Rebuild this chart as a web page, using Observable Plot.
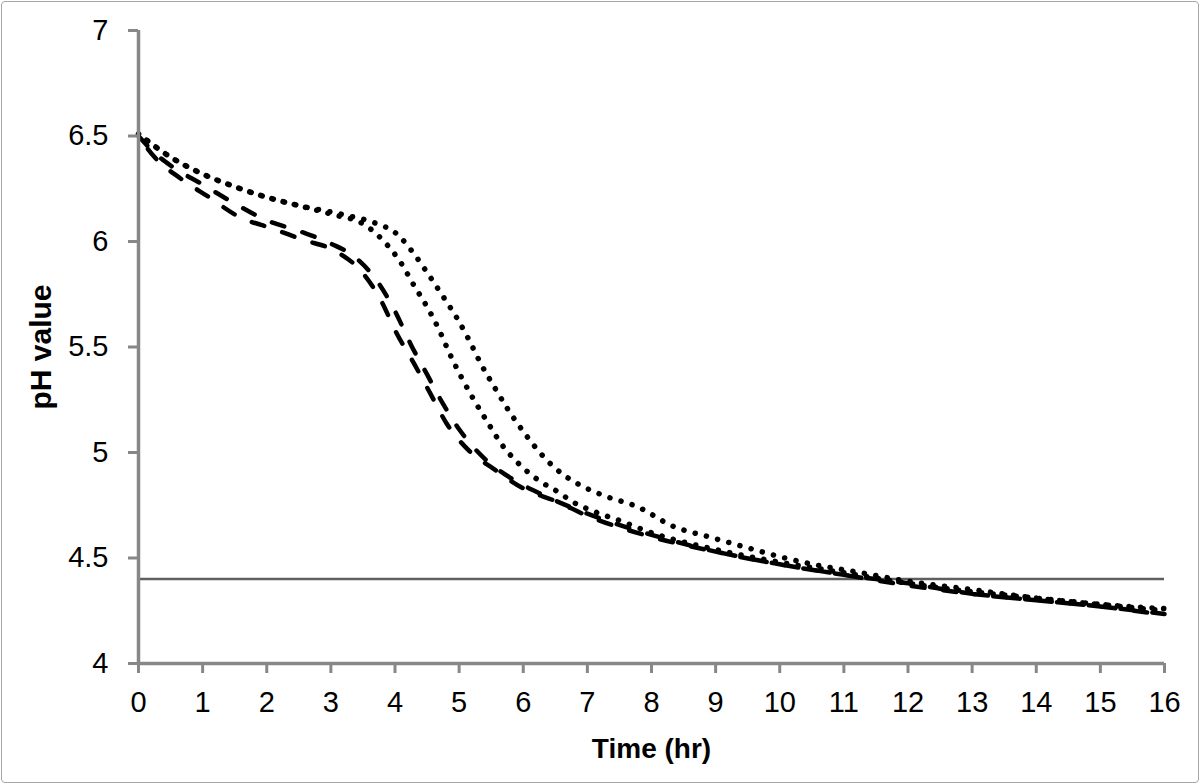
<!DOCTYPE html>
<html><head><meta charset="utf-8">
<script src="https://cdn.jsdelivr.net/npm/d3@7"></script>
<script src="https://cdn.jsdelivr.net/npm/@observablehq/plot@0.6"></script>
<style>
body{margin:0;background:#fff}
#chart svg{display:block;outline:1.5px solid #a6a6a6;outline-offset:-2px;border-radius:5px}
</style>
</head><body><div id="chart"></div>
<script>
// Dashed curve (drawn as two interleaved dashed rows)
const dashUTime = [0, 0.25, 0.5, 1, 1.5, 2, 2.5, 3, 3.4, 3.75, 4, 4.25, 4.5, 4.75, 5, 5.4, 5.8, 6.3, 7, 8, 9, 10, 11, 12, 13, 14, 15, 16];
const dashUPH   = [6.5, 6.42, 6.36, 6.27, 6.18, 6.10, 6.05, 5.99, 5.92, 5.80, 5.67, 5.51, 5.37, 5.23, 5.11, 4.97, 4.88, 4.80, 4.71, 4.61, 4.53, 4.47, 4.42, 4.38, 4.33, 4.30, 4.27, 4.235];
const dashLTime = [0, 0.25, 0.65, 1.1, 1.55, 2.1, 2.55, 3.1, 3.5, 3.8, 4, 4.3, 4.55, 4.8, 5.15, 5.55, 6, 6.5, 7, 8, 9, 10, 11, 12, 13, 14, 15, 16];
const dashLPH   = [6.5, 6.40, 6.30, 6.21, 6.12, 6.06, 6.01, 5.95, 5.85, 5.71, 5.58, 5.42, 5.28, 5.14, 5.01, 4.92, 4.83, 4.77, 4.70, 4.60, 4.53, 4.47, 4.42, 4.37, 4.33, 4.30, 4.27, 4.23];
// Inner dotted curve
const dotInTime = [0, 0.5, 1, 1.5, 2, 2.5, 3, 3.52, 3.83, 4.09, 4.3, 4.5, 4.69, 4.85, 5.03, 5.23, 5.45, 5.66, 5.92, 6.23, 6.56, 6.75, 7.11, 7.48, 8, 9, 10, 11, 12, 13, 14, 15, 16];
const dotInPH   = [6.51, 6.40, 6.32, 6.26, 6.21, 6.17, 6.13, 6.08, 6.0, 5.9, 5.79, 5.69, 5.58, 5.47, 5.36, 5.25, 5.14, 5.04, 4.95, 4.87, 4.81, 4.77, 4.72, 4.68, 4.62, 4.54, 4.48, 4.43, 4.38, 4.34, 4.31, 4.28, 4.25];
// Outer dotted curve
const dotOutTime = [0, 0.5, 1, 1.5, 2, 2.5, 3, 3.3, 3.67, 4.05, 4.3, 4.53, 4.77, 4.98, 5.16, 5.34, 5.55, 5.77, 6.0, 6.23, 6.52, 6.86, 7.22, 7.8, 8.34, 8.9, 9.48, 10.08, 10.69, 11.08, 12, 13, 14, 15, 16];
const dotOutPH   = [6.51, 6.40, 6.32, 6.26, 6.21, 6.17, 6.14, 6.12, 6.09, 6.03, 5.94, 5.84, 5.73, 5.63, 5.53, 5.42, 5.31, 5.20, 5.10, 5.01, 4.92, 4.85, 4.80, 4.74, 4.65, 4.60, 4.55, 4.50, 4.46, 4.44, 4.39, 4.35, 4.31, 4.28, 4.26];
const thresholdPH = 4.4;
const xTicks = [0,1,2,3,4,5,6,7,8,9,10,11,12,13,14,15,16];
const yTicks = [4,4.5,5,5.5,6,6.5,7];

const toRows = (t, v) => t.map((x, i) => ({time: x, ph: v[i]}));
const dashU = toRows(dashUTime, dashUPH);
const dashL = toRows(dashLTime, dashLPH);
const dotIn = toRows(dotInTime, dotInPH);
const dotOut = toRows(dotOutTime, dotOutPH);

const axisGray = "#878787";
const font = "'Liberation Sans', Arial, sans-serif";
const chart = Plot.plot({
  width: 1200, height: 784,
  marginLeft: 138, marginRight: 36, marginTop: 30, marginBottom: 121,
  style: {fontFamily: font, fontSize: "29px", color: "black", background: "white"},
  x: {domain: [0, 16]},
  y: {domain: [4, 7]},
  marks: [
    Plot.ruleY([thresholdPH], {x1: 0, x2: 16, stroke: "#5f5f5f", strokeWidth: 2.5}),
    Plot.line(dotOut, {x: "time", y: "ph", curve: "monotone-x", stroke: "black", strokeWidth: 5.5, strokeLinecap: "round", strokeDasharray: "0.1,11.5"}),
    Plot.line(dotIn, {x: "time", y: "ph", curve: "monotone-x", stroke: "black", strokeWidth: 5.5, strokeLinecap: "round", strokeDasharray: "0.1,11.5", strokeDashoffset: 1.5}),
    Plot.line(dashU, {x: "time", y: "ph", curve: "monotone-x", stroke: "black", strokeWidth: 4.5, strokeLinecap: "round", strokeDasharray: "13,19"}),
    Plot.line(dashL, {x: "time", y: "ph", curve: "monotone-x", stroke: "black", strokeWidth: 4.5, strokeLinecap: "round", strokeDasharray: "13,19", strokeDashoffset: 16}),
    Plot.ruleX([0], {y1: 4, y2: 7, stroke: axisGray, strokeWidth: 3.5}),
    Plot.ruleY([4], {x1: 0, x2: 16, stroke: axisGray, strokeWidth: 3.5}),
    Plot.axisX({ticks: xTicks, tickFormat: d => String(d), tickSize: 10, tickPadding: 18, stroke: axisGray, strokeWidth: 3, fill: "black", fontSize: 29, label: null}),
    Plot.axisY({ticks: yTicks, tickFormat: d => String(d), tickSize: 10, tickPadding: 20, stroke: axisGray, strokeWidth: 3, fill: "black", fontSize: 29, label: null}),
    Plot.axisX({ticks: [], tickSize: 0, label: "Time (hr)", labelAnchor: "center", labelArrow: "none", labelOffset: 94, fontWeight: "bold", fontSize: 28, letterSpacing: 1.5, fill: "black"}),
    Plot.axisY({ticks: [], tickSize: 0, label: "pH value", labelAnchor: "center", labelArrow: "none", labelOffset: 109, fontWeight: "bold", fontSize: 30, fill: "black"})
  ]
});
document.getElementById("chart").append(chart);
</script>
</body></html>
